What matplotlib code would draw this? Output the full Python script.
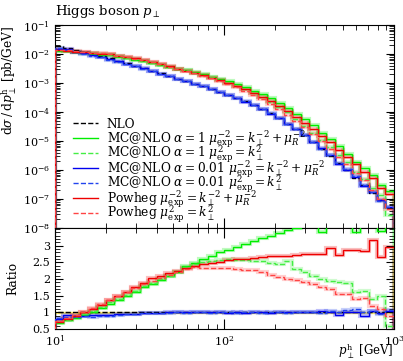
import numpy as np
import matplotlib
matplotlib.use("Agg")
import matplotlib.pyplot as plt
from matplotlib.ticker import MultipleLocator, LogLocator

plt.rcParams['font.family'] = ['DejaVu Serif']
plt.rcParams['mathtext.fontset'] = 'dejavuserif'
plt.rcParams['font.size'] = 8

# 40 log bins from 10 to 1000 GeV
edges = np.logspace(1, 3, 41)

# NLO reference, pb/GeV
nlo = [1.905e-2, 1.622e-2, 1.380e-2, 1.175e-2, 1.0e-2, 8.51e-3, 7.08e-3, 5.89e-3,
       4.90e-3, 3.98e-3, 3.24e-3, 2.63e-3, 2.14e-3, 1.74e-3, 1.41e-3, 1.15e-3,
       9.33e-4, 7.59e-4, 6.17e-4, 5.01e-4, 3.98e-4, 3.09e-4, 2.34e-4, 1.74e-4,
       1.26e-4, 8.91e-5, 6.03e-5, 3.98e-5, 2.51e-5, 1.55e-5, 9.33e-6, 5.50e-6,
       3.16e-6, 1.78e-6, 1.0e-6, 5.50e-7, 3.02e-7, 1.66e-7, 9.12e-8, 5.01e-8]

# ratios to NLO
mc1_a = [0.68, 0.76, 0.84, 0.92, 1.02, 1.12, 1.26, 1.36, 1.50, 1.62,
         1.76, 1.86, 1.98, 2.08, 2.20, 2.38, 2.48, 2.60, 2.70, 2.80,
         2.86, 2.96, 3.06, 3.14, 3.22, 3.30, 3.38, 3.46, 3.54, 3.62,
         3.70, 3.42, 3.70, 3.80, 3.60, 3.42, 3.80, 3.90, 3.45, 3.90]
mc1_b = [0.70, 0.78, 0.86, 0.95, 1.05, 1.16, 1.30, 1.40, 1.52, 1.65,
         1.78, 1.88, 2.00, 2.10, 2.22, 2.36, 2.46, 2.52, 2.55, 2.56,
         2.59, 2.58, 2.56, 2.55, 2.54, 2.48, 2.46, 2.54, 2.30, 2.20,
         2.10, 2.00, 1.94, 1.92, 1.88, 1.60, 1.65, 1.40, 1.50, 0.58]
mc001_a = [0.80, 0.92, 0.88, 0.90, 0.92, 0.92, 0.93, 0.94, 0.95, 0.96,
           0.98, 0.98, 0.99, 1.00, 1.00, 1.00, 1.00, 1.00, 1.00, 1.00,
           0.99, 1.00, 0.98, 1.00, 1.01, 0.99, 1.00, 1.00, 1.02, 1.00,
           1.00, 1.04, 1.02, 0.93, 1.00, 1.02, 0.90, 1.04, 0.98, 1.04]
mc001_b = [0.82, 0.86, 0.86, 0.88, 0.86, 0.90, 0.90, 0.92, 0.94, 0.95,
           0.97, 0.98, 0.99, 0.98, 1.00, 0.99, 1.00, 1.01, 0.99, 1.00,
           1.00, 0.99, 1.01, 1.00, 0.99, 1.00, 1.02, 0.99, 1.00, 1.01,
           1.00, 0.99, 1.03, 1.01, 1.08, 1.10, 1.02, 1.05, 0.96, 1.06]
pwg_a = [0.72, 0.80, 0.88, 1.00, 1.10, 1.22, 1.38, 1.50, 1.62, 1.76,
         1.89, 2.04, 2.10, 2.18, 2.24, 2.32, 2.40, 2.44, 2.47, 2.51,
         2.56, 2.60, 2.60, 2.62, 2.65, 2.68, 2.68, 2.70, 2.72, 2.74,
         2.76, 2.74, 2.94, 2.72, 2.86, 2.88, 2.84, 3.16, 2.66, 2.95]
pwg_b = [0.74, 0.84, 0.92, 1.02, 1.12, 1.24, 1.38, 1.50, 1.62, 1.74,
         1.86, 1.95, 2.04, 2.12, 2.20, 2.30, 2.36, 2.34, 2.33, 2.32,
         2.32, 2.30, 2.28, 2.26, 2.22, 2.12, 2.06, 2.00, 1.96, 1.90,
         1.86, 1.75, 1.70, 1.55, 1.56, 1.40, 1.44, 1.20, 1.10, 0.90]

labels = [
    r"MC@NLO $\alpha = 1\ \mu_\mathrm{exp}^{-2} = k_\perp^{-2} + \mu_R^{-2}$",
    r"MC@NLO $\alpha = 1\ \mu_\mathrm{exp}^{2} = k_\perp^{2}$",
    r"MC@NLO $\alpha = 0.01\ \mu_\mathrm{exp}^{-2} = k_\perp^{-2} + \mu_R^{-2}$",
    r"MC@NLO $\alpha = 0.01\ \mu_\mathrm{exp}^{2} = k_\perp^{2}$",
    r"Powheg $\mu_\mathrm{exp}^{-2} = k_\perp^{-2} + \mu_R^{-2}$",
    r"Powheg $\mu_\mathrm{exp}^{2} = k_\perp^{2}$",
]
ratios = [mc1_a, mc1_b, mc001_a, mc001_b, pwg_a, pwg_b]
colors = ['#00ee00', '#44ee44', '#0000ee', '#2244ee', '#ee0000', '#ff4444']
styles = ['-', '--', '-', '--', '-', '--']

fig = plt.figure(figsize=(4.03, 3.61), dpi=100)
ax = fig.add_axes([0.1365, 0.3684, 0.841, 0.5623])
rax = fig.add_axes([0.1365, 0.0886, 0.841, 0.2798], sharex=ax)

nlo_arr = np.array(nlo)
ax.stairs(nlo_arr, edges, color='black', linestyle='--', lw=1.0, zorder=2)
for r, c, ls in zip(ratios, colors, styles):
    vals = nlo_arr * np.array(r)
    ax.stairs(vals, edges, color=c, lw=3, alpha=0.25, zorder=1)
    ax.stairs(vals, edges, color=c, lw=1.0, linestyle=ls, zorder=3)
    rax.stairs(r, edges, color=c, lw=3, alpha=0.25, zorder=1)
    rax.stairs(r, edges, color=c, lw=1.0, linestyle=ls, zorder=3)

rax.fill_between([10, 1000], 0.98, 1.02, color='#ffee55', alpha=0.8, zorder=0)
rax.stairs(np.ones(len(nlo)), edges, color='black', linestyle='--', lw=1.0, zorder=2)

# legend drawn by hand so the rows sit at even spacing
leg_names = ['NLO'] + labels
leg_colors = ['black'] + colors
leg_styles = ['--'] + styles
for k, (name, c, ls) in enumerate(zip(leg_names, leg_colors, leg_styles)):
    yk = 0.516 - k * 0.0740
    ax.plot([0.053, 0.127], [yk, yk], color=c, ls=ls, lw=1.0,
            transform=ax.transAxes)
    ax.text(0.153, yk - 0.022, name, transform=ax.transAxes,
            va='baseline', ha='left', fontsize=8.8)

ax.set_xscale('log')
ax.set_yscale('log')
ax.set_xlim(10, 1000)
ax.set_ylim(1e-8, 1e-1)
rax.set_ylim(0.5, 3.53)
rax.set_yticks([0.5, 1, 1.5, 2, 2.5, 3])
rax.set_yticklabels(['0.5', '1', '1.5', '2', '2.5', '3'])
rax.yaxis.set_minor_locator(MultipleLocator(0.1))
ax.yaxis.set_minor_locator(LogLocator(base=10, subs=np.arange(2, 10), numticks=20))

for a in (ax, rax):
    a.tick_params(which='both', direction='in', top=True, right=True, labelsize=8)
    a.tick_params(which='major', length=6, width=0.8)
    a.tick_params(which='minor', length=3.5, width=0.6)
    a.tick_params(axis='x', which='major', length=7)
    for s in a.spines.values():
        s.set_linewidth(0.8)
ax.tick_params(labelbottom=False)

ax.set_ylabel(r"$\mathrm{d}\sigma\,/\,\mathrm{d}p_\perp^\mathrm{h}$ [pb/GeV]",
              fontsize=8.8, loc='top')
rax.set_ylabel("Ratio", fontsize=8.8)
ax.yaxis.set_label_coords(-0.105, 1.0)
rax.yaxis.set_label_coords(-0.105, 0.5)
rax.set_xlabel(r"$p_\perp^\mathrm{h}$ [GeV]", fontsize=8.5, loc='right')
rax.xaxis.set_label_coords(1.0, -0.12)
ax.set_title(r"Higgs boson $p_\perp$", loc='left', fontsize=9.5, pad=7)

fig.savefig('out.png', dpi=100)
